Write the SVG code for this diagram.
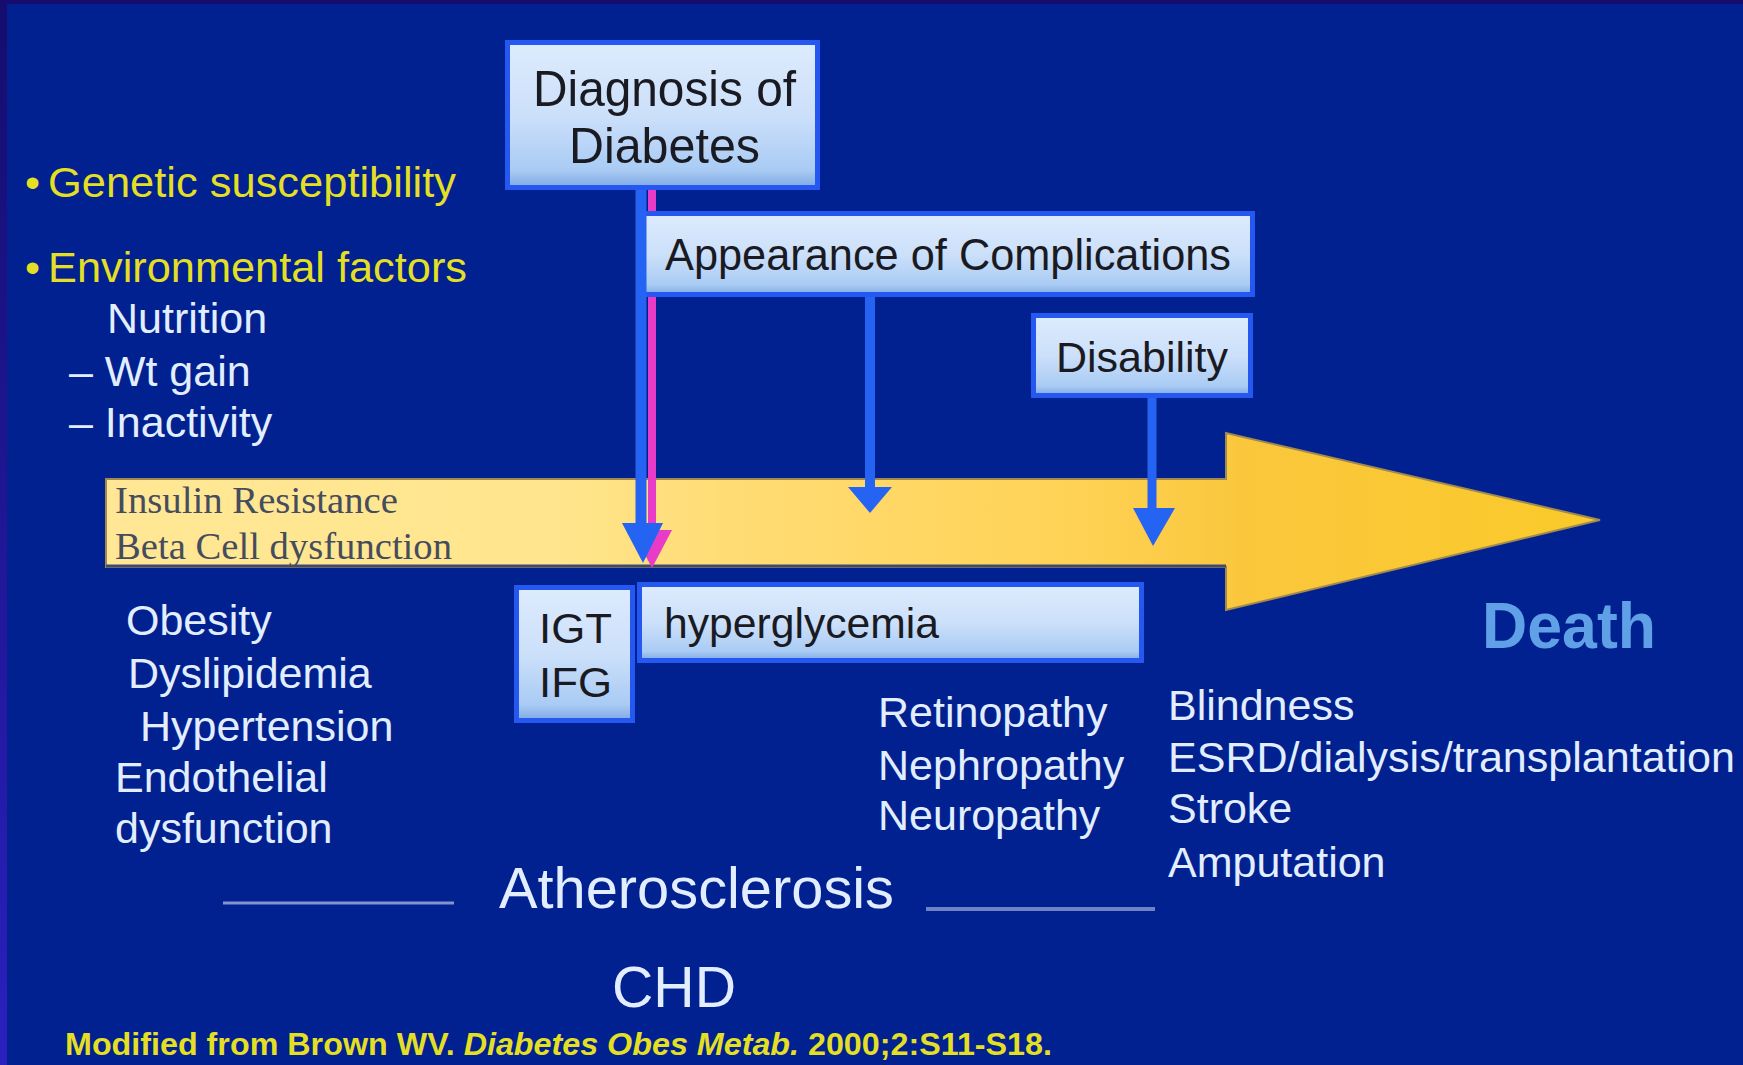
<svg xmlns="http://www.w3.org/2000/svg" width="1743" height="1065" viewBox="0 0 1743 1065">
<style>
.t{font-family:"Liberation Sans",Arial,sans-serif;font-size:43px}
.w{fill:#E2EEFF}
.y{fill:#E4DF24}
.dk{fill:#1A1A22}
.box{stroke:#2458F0;stroke-width:5;fill:url(#boxg)}
.blue{fill:#2563F2}
.bl{stroke:#2563F2;fill:none}
.ser{font-family:"Liberation Serif","Times New Roman",serif;font-size:38px;fill:#454C5E}
</style>
<defs>
<linearGradient id="boxg" x1="0" y1="0" x2="0" y2="1">
<stop offset="0" stop-color="#DDEBFD"/>
<stop offset="0.5" stop-color="#CCE0FA"/>
<stop offset="0.88" stop-color="#A9CBF4"/>
<stop offset="1" stop-color="#7EA9E4"/>
</linearGradient>
<linearGradient id="barg" x1="106" y1="0" x2="1600" y2="0" gradientUnits="userSpaceOnUse">
<stop offset="0" stop-color="#FFE795"/>
<stop offset="0.3" stop-color="#FFE58D"/>
<stop offset="0.42" stop-color="#FFDC74"/>
<stop offset="0.65" stop-color="#FFD255"/>
<stop offset="0.76" stop-color="#FAC73C"/>
<stop offset="1" stop-color="#F9CA2A"/>
</linearGradient>
<linearGradient id="edge" x1="0" y1="0" x2="0" y2="1">
<stop offset="0" stop-color="#160C6E"/>
<stop offset="1" stop-color="#2A20BE"/>
</linearGradient>
</defs>
<rect width="1743" height="1065" fill="#00218F"/>
<rect width="1743" height="4" fill="#160C6E"/>
<rect width="7" height="1065" fill="url(#edge)"/>

<g id="bar">
<polygon points="106,479 1226,479 1226,433 1600,520 1226,610 1226,567 106,567" fill="url(#barg)" stroke="#A08A50" stroke-width="2"/>
<line x1="106" y1="566" x2="1226" y2="566" stroke="#3F4870" stroke-width="3"/>
<text class="ser" x="115" y="513" textLength="283" lengthAdjust="spacingAndGlyphs">Insulin Resistance</text>
<text class="ser" x="115" y="559" textLength="337" lengthAdjust="spacingAndGlyphs">Beta Cell dysfunction</text>
</g>

<g id="risk-factors">
<text class="t y" x="25" y="197">•</text>
<text class="t y" x="48" y="197" textLength="408" lengthAdjust="spacingAndGlyphs">Genetic susceptibility</text>
<text class="t y" x="25" y="282">•</text>
<text class="t y" x="48" y="282" textLength="419" lengthAdjust="spacingAndGlyphs">Environmental factors</text>
<text class="t w" x="107" y="333">Nutrition</text>
<text class="t w" x="69" y="386">– Wt gain</text>
<text class="t w" x="69" y="437">– Inactivity</text>
</g>

<g id="connectors">
<line x1="652" y1="190" x2="652" y2="540" stroke="#E83CC8" stroke-width="8"/>
<polygon points="632,530 672,530 652,568" fill="#E83CC8"/>
<line class="bl" x1="870" y1="296" x2="870" y2="492" stroke-width="10"/>
<polygon class="blue" points="848,487 892,487 870,513"/>
<line class="bl" x1="1152" y1="398" x2="1152" y2="512" stroke-width="9"/>
<polygon class="blue" points="1133,508 1175,508 1153,546"/>
</g>

<g id="diagnosis">
<rect class="box" x="507.5" y="42.5" width="310" height="145"/>
<text class="t dk" x="533" y="106" style="font-size:50px" textLength="263" lengthAdjust="spacingAndGlyphs">Diagnosis of</text>
<text class="t dk" x="569" y="163" style="font-size:50px" textLength="191" lengthAdjust="spacingAndGlyphs">Diabetes</text>
</g>

<g id="complications">
<rect class="box" x="642.5" y="213.5" width="610" height="81"/>
<text class="t dk" x="665" y="270" style="font-size:44px" textLength="566" lengthAdjust="spacingAndGlyphs">Appearance of Complications</text>
</g>

<g id="blue-arrow">
<line class="bl" x1="641" y1="190" x2="641" y2="530" stroke-width="11"/>
<polygon class="blue" points="622,523 663,523 643,563"/>
</g>

<g id="disability">
<rect class="box" x="1033.5" y="315.5" width="217" height="80"/>
<text class="t dk" x="1056" y="372" textLength="172" lengthAdjust="spacingAndGlyphs">Disability</text>
</g>

<g id="igt">
<rect class="box" x="516.5" y="587.5" width="116" height="133"/>
<text class="t dk" x="539" y="643" textLength="73" lengthAdjust="spacingAndGlyphs">IGT</text>
<text class="t dk" x="539" y="697" textLength="73" lengthAdjust="spacingAndGlyphs">IFG</text>
</g>

<g id="hyperglycemia">
<rect class="box" x="639.5" y="584.5" width="502" height="76"/>
<text class="t dk" x="664" y="638" textLength="275" lengthAdjust="spacingAndGlyphs">hyperglycemia</text>
</g>

<g id="left-conditions">
<text class="t w" x="126" y="635">Obesity</text>
<text class="t w" x="128" y="688">Dyslipidemia</text>
<text class="t w" x="140" y="741">Hypertension</text>
<text class="t w" x="115" y="792">Endothelial</text>
<text class="t w" x="115" y="843">dysfunction</text>
</g>

<g id="microvascular">
<text class="t w" x="878" y="727">Retinopathy</text>
<text class="t w" x="878" y="780">Nephropathy</text>
<text class="t w" x="878" y="830">Neuropathy</text>
</g>

<g id="outcomes">
<text class="t w" x="1168" y="720">Blindness</text>
<text class="t w" x="1168" y="772" textLength="567" lengthAdjust="spacingAndGlyphs">ESRD/dialysis/transplantation</text>
<text class="t w" x="1168" y="823">Stroke</text>
<text class="t w" x="1168" y="877">Amputation</text>
</g>

<g id="death">
<text x="1482" y="648" style="font-family:'Liberation Sans',Arial,sans-serif;font-size:64px;font-weight:bold;fill:#60A0E6" textLength="174" lengthAdjust="spacingAndGlyphs">Death</text>
</g>

<g id="atherosclerosis">
<line x1="223" y1="903" x2="454" y2="903" stroke="#8293D0" stroke-width="3"/>
<line x1="926" y1="909" x2="1155" y2="909" stroke="#6E82C6" stroke-width="4"/>
<text class="t w" x="499" y="908" style="font-size:58px" textLength="395" lengthAdjust="spacingAndGlyphs">Atherosclerosis</text>
<text class="t w" x="612" y="1007" style="font-size:57px" textLength="124" lengthAdjust="spacingAndGlyphs">CHD</text>
</g>

<g id="footer">
<text class="t y" x="65" y="1055" style="font-size:32px;font-weight:bold" textLength="987" lengthAdjust="spacingAndGlyphs">Modified from Brown WV. <tspan font-style="italic">Diabetes Obes Metab.</tspan> 2000;2:S11-S18.</text>
</g>
</svg>
